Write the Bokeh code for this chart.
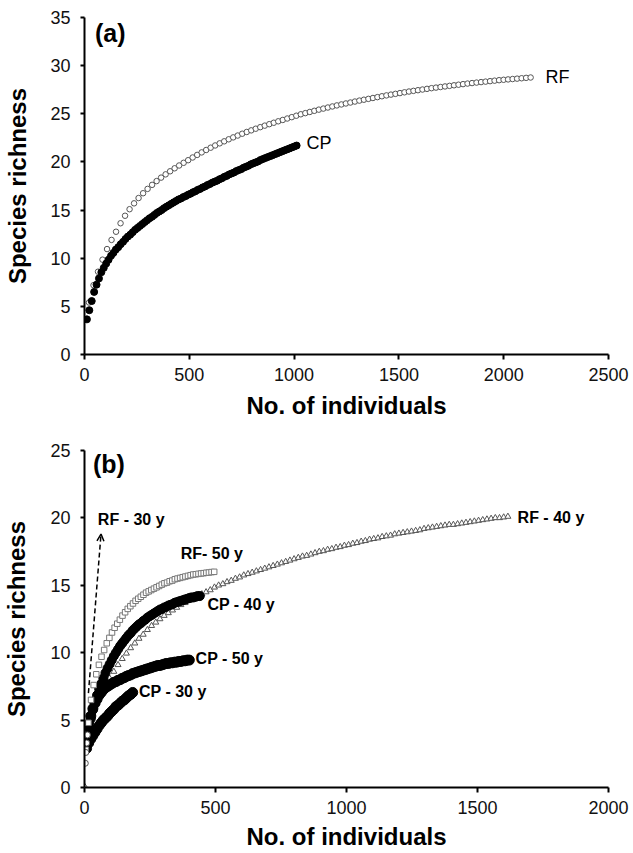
from bokeh.plotting import figure
from bokeh.models import FixedTicker, Label, Arrow, OpenHead, Range1d
from bokeh.layouts import column
from bokeh.embed import file_html
from bokeh.resources import INLINE

FONT = "Liberation Sans"

# ---------------- Panel (a) data ----------------
A_X_TICKS = [0, 500, 1000, 1500, 2000, 2500]
A_Y_TICKS = [0, 5, 10, 15, 20, 25, 30, 35]

RF_A_X = [21.5, 43, 64.5, 86, 107.5, 129, 150.5, 172, 193.5, 215, 236.5, 258, 279.5, 301, 322.5, 344,
          365.5, 387, 408.5, 430, 451.5, 473, 494.5, 516, 537.5, 559, 580.5, 602, 623.5, 645, 666.5, 688,
          709.5, 731, 752.5, 774, 795.5, 817, 838.5, 860, 881.5, 903, 924.5, 946, 967.5, 989, 1010.5, 1032,
          1053.5, 1075, 1096.5, 1118, 1139.5, 1161, 1182.5, 1204, 1225.5, 1247, 1268.5, 1290, 1311.5, 1333,
          1354.5, 1376, 1397.5, 1419, 1440.5, 1462, 1483.5, 1505, 1526.5, 1548, 1569.5, 1591, 1612.5, 1634,
          1655.5, 1677, 1698.5, 1720, 1741.5, 1763, 1784.5, 1806, 1827.5, 1849, 1870.5, 1892, 1913.5, 1935,
          1956.5, 1978, 1999.5, 2021, 2042.5, 2064, 2085.5, 2107, 2128.5]
RF_A_Y = [5.4, 7.2, 8.6, 9.85, 10.95, 11.9, 12.75, 13.63, 14.41, 15.09, 15.7, 16.25, 16.75, 17.2, 17.62, 18.01,
          18.37, 18.71, 19.03, 19.34, 19.63, 19.91, 20.18, 20.46, 20.73, 20.99, 21.24, 21.48, 21.71, 21.93, 22.14, 22.35,
          22.55, 22.74, 22.93, 23.11, 23.28, 23.45, 23.61, 23.77, 23.92, 24.07, 24.22, 24.36, 24.51, 24.65, 24.8, 24.95,
          25.07, 25.19, 25.31, 25.43, 25.54, 25.65, 25.76, 25.87, 25.97, 26.07, 26.17, 26.27, 26.37, 26.46,
          26.55, 26.64, 26.73, 26.82, 26.91, 26.99, 27.07, 27.15, 27.23, 27.31, 27.38, 27.45, 27.52, 27.59,
          27.66, 27.72, 27.78, 27.84, 27.90, 27.96, 28.02, 28.08, 28.14, 28.19, 28.24, 28.29, 28.34, 28.39,
          28.44, 28.49, 28.53, 28.57, 28.61, 28.65, 28.69, 28.73, 28.77]

CP_A_X = [11.5, 23, 34.5, 46, 57.5, 69, 80.5, 92, 103.5, 115, 126.5, 138, 149.5, 161, 172.5, 184, 195.5, 207,
          218.5, 230, 241.5, 253, 264.5, 276, 287.5, 299, 310.5, 322, 333.5, 345, 356.5, 368, 379.5, 391, 402.5,
          414, 425.5, 437, 448.5, 460, 471.5, 483, 494.5, 506, 517.5, 529, 540.5, 552, 563.5, 575, 586.5, 598,
          609.5, 621, 632.5, 644, 655.5, 667, 678.5, 690, 701.5, 713, 724.5, 736, 747.5, 759, 770.5, 782, 793.5,
          805, 816.5, 828, 839.5, 851, 862.5, 874, 885.5, 897, 908.5, 920, 931.5, 943, 954.5, 966, 977.5, 989,
          1000.5, 1012]
CP_A_Y = [3.65, 4.6, 5.55, 6.5, 7.25, 7.9, 8.55, 9.0, 9.45, 9.85, 10.25, 10.55, 10.9, 11.15, 11.45, 11.7, 12.0, 12.25,
          12.45, 12.7, 12.95, 13.15, 13.35, 13.55, 13.75, 13.95, 14.15, 14.3, 14.5, 14.7, 14.85, 15.0, 15.2, 15.35, 15.5,
          15.65, 15.8, 15.95, 16.1, 16.2, 16.35, 16.45, 16.6, 16.7, 16.85, 16.95, 17.1, 17.2, 17.35, 17.45, 17.6, 17.7,
          17.85, 17.95, 18.05, 18.2, 18.3, 18.45, 18.55, 18.7, 18.8, 18.9, 19.05, 19.15, 19.25, 19.4, 19.5, 19.6, 19.75,
          19.85, 19.95, 20.05, 20.2, 20.3, 20.4, 20.5, 20.6, 20.7, 20.8, 20.9, 21.0, 21.1, 21.2, 21.3, 21.4, 21.5,
          21.6, 21.7]

# ---------------- Panel (b) data ----------------
B_X_TICKS = [0, 500, 1000, 1500, 2000]
B_Y_TICKS = [0, 5, 10, 15, 20, 25]

RF50_X = [5, 15, 25, 35, 45, 55, 65, 75, 85, 95, 105, 115, 125, 135, 145, 155, 165, 175, 185, 195,
          205, 215, 225, 235, 245, 255, 265, 275, 285, 295, 305, 315, 325, 335, 345, 355, 365, 375, 385, 395,
          405, 415, 425, 435, 445, 455, 465, 475, 485, 495]
RF50_Y = [2.8, 4.8, 6.5, 7.6, 8.4, 9.1, 9.7, 10.2, 10.7, 11.1, 11.5, 11.85, 12.15, 12.45, 12.75, 13.0, 13.25, 13.45,
          13.65, 13.85, 14.0, 14.15, 14.3, 14.45, 14.55, 14.65, 14.75, 14.85, 14.95, 15.05, 15.15, 15.2, 15.3, 15.35,
          15.45, 15.5, 15.55, 15.6, 15.65, 15.7, 15.75, 15.8, 15.82, 15.85, 15.88, 15.9, 15.93, 15.95, 15.98, 16.0]

RF40_X = [16, 32, 48, 64, 80, 96, 112, 128, 144, 160, 176, 192, 208, 224, 240, 256, 272, 288, 304, 320,
          336, 352, 368, 384, 400, 416, 432, 448, 464, 480, 496, 512, 528, 544, 560, 576, 592, 608, 624, 640,
          656, 672, 688, 704, 720, 736, 752, 768, 784, 800, 816, 832, 848, 864, 880, 896, 912, 928, 944, 960,
          976, 992, 1008, 1024, 1040, 1056, 1072, 1088, 1104, 1120, 1136, 1152, 1168, 1184, 1200, 1216, 1232,
          1248, 1264, 1280, 1296, 1312, 1328, 1344, 1360, 1376, 1392, 1408, 1424, 1440, 1456, 1472, 1488, 1504,
          1520, 1536, 1552, 1568, 1584, 1600, 1616]
RF40_Y = [4.3, 5.5, 6.3, 6.9, 7.5, 8.1, 8.6, 9.1, 9.55, 9.95, 10.35, 10.7, 11.05, 11.35, 11.7, 12.0, 12.25, 12.5,
          12.75, 12.95, 13.15, 13.35, 13.55, 13.7, 13.9, 14.05, 14.2, 14.35, 14.5, 14.65, 14.85, 15.0, 15.1, 15.25,
          15.35, 15.5, 15.6, 15.75, 15.85, 15.95, 16.05, 16.15, 16.25, 16.35, 16.45, 16.55, 16.65, 16.75, 16.85,
          16.95, 17.05, 17.15, 17.2, 17.3, 17.4, 17.5, 17.55, 17.65, 17.7, 17.8, 17.85, 17.95, 18.0, 18.1, 18.15,
          18.25, 18.3, 18.4, 18.45, 18.5, 18.6, 18.65, 18.7, 18.8, 18.85, 18.9, 18.95, 19.0, 19.05, 19.1, 19.2,
          19.25, 19.3, 19.35, 19.4, 19.45, 19.5, 19.5, 19.55, 19.6, 19.65, 19.7, 19.75, 19.8, 19.85, 19.9, 19.95,
          20.0, 20.0, 20.05, 20.1]

CP40_X = [8, 16, 24, 32, 40, 48, 56, 64, 72, 80, 88, 96, 104, 112, 120, 128, 136, 144, 152, 160, 168, 176,
          184, 192, 200, 208, 216, 224, 232, 240, 248, 256, 264, 272, 280, 288, 296, 304, 312, 320, 328, 336,
          344, 352, 360, 368, 376, 384, 392, 400, 408, 416, 424, 432, 440]
CP40_Y = [3.6, 4.4, 5.1, 5.75, 6.3, 6.85, 7.3, 7.7, 8.1, 8.5, 8.85, 9.15, 9.45, 9.75, 10.0, 10.25, 10.5, 10.7,
          10.9, 11.1, 11.3, 11.45, 11.65, 11.8, 11.95, 12.1, 12.2, 12.35, 12.45, 12.6, 12.7, 12.8, 12.9, 13.0, 13.1,
          13.2, 13.25, 13.35, 13.4, 13.5, 13.55, 13.6, 13.7, 13.75, 13.8, 13.85, 13.9, 13.95, 14.0, 14.05, 14.1,
          14.1, 14.15, 14.2, 14.2]

CP50_X = [16, 24, 32, 40, 48, 56, 64, 72, 80, 88, 96, 104, 112, 120, 128, 136, 144, 152, 160, 168, 176, 184,
          192, 200, 208, 216, 224, 232, 240, 248, 256, 264, 272, 280, 288, 296, 304, 312, 320, 328, 336, 344,
          352, 360, 368, 376, 384, 392, 400]
CP50_Y = [4.7, 5.3, 5.85, 6.25, 6.55, 6.85, 7.05, 7.25, 7.4, 7.5, 7.6, 7.7, 7.8, 7.85, 7.95, 8.0, 8.1, 8.15,
          8.25, 8.3, 8.35, 8.45, 8.5, 8.55, 8.6, 8.65, 8.7, 8.75, 8.8, 8.85, 8.9, 8.95, 9.0, 9.05, 9.05, 9.1,
          9.15, 9.2, 9.2, 9.25, 9.25, 9.3, 9.3, 9.35, 9.35, 9.4, 9.4, 9.45, 9.45]

CP30_X = [8, 16, 24, 32, 40, 48, 56, 64, 72, 80, 88, 96, 104, 112, 120, 128, 136, 144, 152, 160, 168, 176, 184]
CP30_Y = [2.9, 3.3, 3.6, 3.85, 4.1, 4.35, 4.6, 4.8, 5.0, 5.15, 5.3, 5.5, 5.65, 5.8, 6.0, 6.1, 6.25, 6.4, 6.5,
          6.65, 6.8, 6.9, 7.05]

RF30_X = [3, 5, 8, 11]
RF30_Y = [1.8, 2.6, 3.3, 3.9]
RF30_ARROW = (15, 7.0, 63, 18.8)   # start x, start y, tip x, tip y

ORIGIN_X = [0]
ORIGIN_Y = [0]


def style(p, xticks, yticks, ytitle_standoff, xtitle_standoff):
    p.xaxis.ticker = FixedTicker(ticks=xticks)
    p.yaxis.ticker = FixedTicker(ticks=yticks)
    for ax in p.xaxis + p.yaxis:
        ax.axis_line_width = 2
        ax.axis_line_color = "black"
        ax.major_tick_line_width = 2
        ax.major_tick_line_color = "black"
        ax.major_tick_in = 0
        ax.minor_tick_out = 0
        ax.minor_tick_in = 0
        ax.major_label_text_font = FONT
        ax.major_label_text_font_size = "18px"
        ax.major_label_text_color = "#111111"
        ax.axis_label_text_font = FONT
        ax.axis_label_text_font_size = "24px"
        ax.axis_label_text_font_style = "bold"
        ax.axis_label_text_color = "black"
    p.xaxis.major_tick_out = 5
    p.yaxis.major_tick_out = 4
    p.xaxis.major_label_standoff = 8
    p.yaxis.major_label_standoff = 10
    p.xaxis.axis_label = "No. of individuals"
    p.yaxis.axis_label = "Species richness"
    p.xaxis.axis_label_standoff = xtitle_standoff
    p.yaxis.axis_label_standoff = ytitle_standoff
    p.grid.visible = False
    p.outline_line_color = None
    p.background_fill_color = "white"
    p.border_fill_color = "white"


def add_label(p, x, y, text, size, bold=True):
    p.add_layout(Label(x=x, y=y, text=text, text_font=FONT, text_font_size=size,
                       text_font_style="bold" if bold else "normal", text_color="black",
                       text_align="left", text_baseline="middle"))


# ---------------- Figure (a) ----------------
pa = figure(width=633, height=423, x_range=Range1d(0, 2500), y_range=Range1d(0, 35),
            output_backend="svg", toolbar_location=None,
            min_border_left=83, min_border_right=25, min_border_top=17, min_border_bottom=69)
style(pa, A_X_TICKS, A_Y_TICKS, ytitle_standoff=16, xtitle_standoff=8)

pa.scatter(RF_A_X, RF_A_Y, marker="circle", size=5.5, fill_color="white",
           line_color="#555555", line_width=1)
pa.scatter(CP_A_X, CP_A_Y, marker="circle", size=7, fill_color="black",
           line_color="black", line_width=1)

add_label(pa, 50, 33.4, "(a)", "25px")
add_label(pa, 1059, 22.0, "CP", "18px", bold=False)
add_label(pa, 2200, 28.8, "RF", "18px", bold=False)

# ---------------- Figure (b) ----------------
pb = figure(width=633, height=430, x_range=Range1d(0, 2000), y_range=Range1d(0, 25),
            output_backend="svg", toolbar_location=None,
            min_border_left=84, min_border_right=23, min_border_top=27, min_border_bottom=66)
style(pb, B_X_TICKS, B_Y_TICKS, ytitle_standoff=17, xtitle_standoff=6)

pb.scatter(RF40_X, RF40_Y, marker="triangle", size=6, fill_color="white",
           line_color="#555555", line_width=1)
pb.scatter(CP30_X, CP30_Y, marker="circle", size=10, fill_color="black", line_color="black")
pb.scatter(CP50_X, CP50_Y, marker="circle", size=10, fill_color="black", line_color="black")
pb.scatter(CP40_X, CP40_Y, marker="circle", size=9, fill_color="black", line_color="black")
pb.scatter(RF50_X, RF50_Y, marker="square", size=5.5, fill_color="white",
           line_color="#777777", line_width=1)
pb.scatter(RF30_X, RF30_Y, marker="circle", size=6, fill_color="white",
           line_color="#555555", line_width=1)
pb.scatter(ORIGIN_X, ORIGIN_Y, marker="diamond", size=9, fill_color="white",
           line_color="#555555", line_width=1)

xs, ys, xe, ye = RF30_ARROW
pb.add_layout(Arrow(end=OpenHead(size=7, line_width=1.5, line_color="black"),
                    x_start=xs, y_start=ys, x_end=xe, y_end=ye,
                    line_dash="5 3", line_width=1.5, line_color="black"))

add_label(pb, 32, 24.0, "(b)", "25px")
add_label(pb, 51, 19.9, "RF - 30 y", "16px")
add_label(pb, 367, 17.35, "RF- 50 y", "16px")
add_label(pb, 469, 13.6, "CP - 40 y", "16px")
add_label(pb, 424, 9.55, "CP - 50 y", "16px")
add_label(pb, 208, 7.15, "CP - 30 y", "16px")
add_label(pb, 1653, 20.05, "RF - 40 y", "16px")

layout = column(pa, pb, spacing=0)
open("out.html", "w").write(file_html(layout, INLINE))
